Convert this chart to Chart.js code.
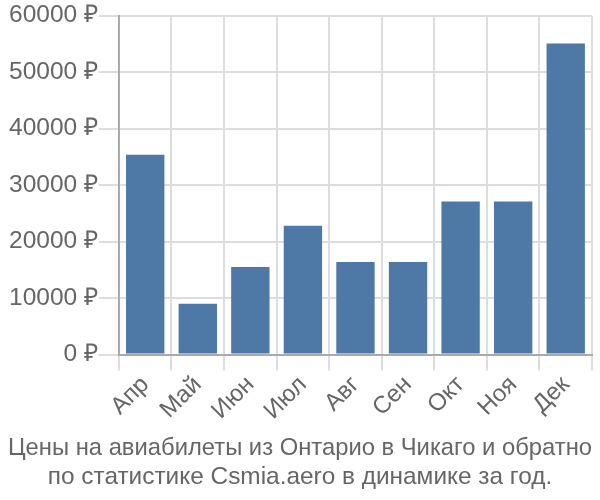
<!DOCTYPE html>
<html>
<head>
<meta charset="utf-8">
<script src="https://cdn.jsdelivr.net/npm/chart.js@4"></script>
<style>
  html, body { margin: 0; padding: 0; background: #fff; }
  #wrap { width: 600px; height: 500px; }
</style>
</head>
<body>
<div id="wrap"><canvas id="chart"></canvas></div>
<script>
var months = ['Апр', 'Май', 'Июн', 'Июл', 'Авг', 'Сен', 'Окт', 'Ноя', 'Дек'];
var prices = [35400, 9000, 15500, 22800, 16400, 16400, 27100, 27100, 55100];
var titleLines = ['Цены на авиабилеты из Онтарио в Чикаго и обратно', 'по статистике Csmia.aero в динамике за год.'];

Chart.defaults.font.family = "'Liberation Sans', Arial, sans-serif";
Chart.defaults.color = '#666';

new Chart(document.getElementById('chart'), {
    type: 'bar',
    data: {
        labels: months,
        datasets: [{
            data: prices,
            backgroundColor: '#4e79a7',
            borderWidth: 0,
            barPercentage: 0.73,
            categoryPercentage: 1.0
        }]
    },
    options: {
        responsive: true,
        maintainAspectRatio: false,
        animation: false,
        layout: { padding: { top: 1, right: 8, left: 8, bottom: 0 } },
        plugins: {
            legend: { display: false },
            tooltip: { enabled: false },
            title: {
                display: true,
                position: 'bottom',
                text: titleLines,
                color: '#666',
                font: { size: 24.4, weight: 'normal' },
                padding: { top: 8, bottom: 8 },
                lineHeight: 1.2
            }
        },
        scales: {
            x: {
                grid: { color: '#ddd', lineWidth: 2, offset: true, tickLength: 16 },
                border: { color: '#aaa', width: 2 },
                ticks: { font: { size: 24 }, maxRotation: 45, minRotation: 45, color: '#666', padding: 0 }
            },
            y: {
                min: 0,
                max: 60000,
                grid: { color: '#ddd', lineWidth: 2, tickLength: 20 },
                border: { color: '#aaa', width: 2 },
                ticks: {
                    stepSize: 10000,
                    font: { size: 24.5 },
                    color: '#666',
                    padding: 1,
                    callback: function (v) { return v + ' ₽'; }
                }
            }
        }
    }
});
</script>
</body>
</html>
